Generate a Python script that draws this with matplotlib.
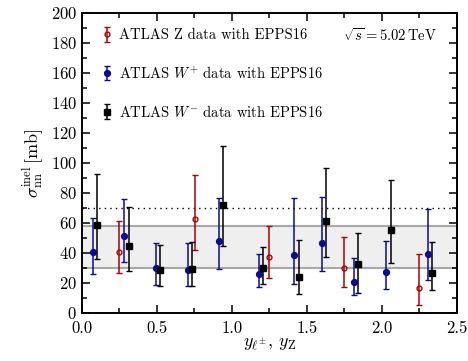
import numpy as np
import matplotlib
matplotlib.use("Agg")
from matplotlib import pyplot as plt
from matplotlib.ticker import MultipleLocator

plt.rcParams["font.family"] = "serif"
plt.rcParams["font.serif"] = ["cmr10"]
plt.rcParams["mathtext.fontset"] = "cm"
plt.rcParams["axes.formatter.use_mathtext"] = True

# ATLAS Z data
z_y = [0.249, 0.751, 1.249, 1.749, 2.249]
z_sig = [40.7, 62.2, 36.9, 29.6, 16.2]
z_hi = [60.9, 91.6, 57.6, 50.5, 38.9]
z_lo = [26.7, 41.8, 23.4, 17.1, 5.1]

# ATLAS W+ data
wp_y = [0.076, 0.284, 0.493, 0.707, 0.913, 1.180, 1.413, 1.598, 1.813, 2.031, 2.309]
wp_sig = [40.7, 51.1, 29.6, 28.7, 48.0, 25.6, 38.5, 46.5, 20.2, 27.4, 39.1]
wp_hi = [63.3, 76.0, 46.2, 46.2, 76.7, 38.9, 76.2, 76.9, 36.2, 48.0, 68.9]
wp_lo = [25.6, 33.8, 18.4, 17.6, 29.4, 17.1, 19.1, 27.8, 11.8, 15.6, 22.0]

# ATLAS W- data
wm_y = [0.104, 0.316, 0.524, 0.737, 0.944, 1.209, 1.447, 1.631, 1.844, 2.062, 2.338]
wm_sig = [58.2, 44.2, 28.2, 28.9, 71.6, 29.8, 24.0, 61.1, 32.2, 54.9, 26.5]
wm_hi = [92.4, 70.2, 44.9, 47.3, 111.3, 44.0, 48.5, 96.2, 52.9, 88.5, 47.1]
wm_lo = [35.6, 27.6, 17.6, 17.8, 44.5, 19.4, 12.2, 37.4, 12.9, 32.9, 15.1]

band_lo, band_hi = 30, 58
ref_line = 70

fig = plt.figure(figsize=(4.68, 3.61), dpi=100)
ax = fig.add_axes([0.175, 0.134, 0.801, 0.831])

ax.axhspan(band_lo, band_hi, facecolor="#efefef", edgecolor="none", zorder=0)
ax.axhline(band_lo, color="#a8a8a8", lw=1.5, zorder=1)
ax.axhline(band_hi, color="#a8a8a8", lw=1.5, zorder=1)
ax.axhline(ref_line, color="black", lw=1.0, ls=(0, (1, 3)), zorder=1)

def draw(x, y, hi, lo, color, marker, mfc, label, ms):
    y = np.array(y)
    err = [y - np.array(lo), np.array(hi) - y]
    ax.errorbar(x, y, yerr=err, fmt=marker, color=color, mfc=mfc, mec=color,
                ms=ms, mew=1.0, elinewidth=1.1, capsize=2.2, capthick=1.1,
                label=label, zorder=3)

draw(z_y, z_sig, z_hi, z_lo, "#b00000", "o", "none", r"ATLAS Z data with EPPS16", 3.5)
draw(wp_y, wp_sig, wp_hi, wp_lo, "#0a0a9a", "o", "#0a0a9a", r"ATLAS $W^{+}$ data with EPPS16", 4.2)
draw(wm_y, wm_sig, wm_hi, wm_lo, "black", "s", "black", r"ATLAS $W^{-}$ data with EPPS16", 4.0)

ax.set_xlim(0, 2.5)
ax.set_ylim(0, 200)
ax.xaxis.set_major_locator(MultipleLocator(0.5))
ax.xaxis.set_minor_locator(MultipleLocator(0.25))
ax.yaxis.set_major_locator(MultipleLocator(20))
ax.yaxis.set_minor_locator(MultipleLocator(10))
ax.xaxis.set_major_formatter(matplotlib.ticker.FormatStrFormatter("%.1f"))
ax.tick_params(which="both", direction="in", top=True, right=True, labelsize=12, width=1.1)
ax.tick_params(which="major", length=6)
ax.tick_params(which="minor", length=3.5)
ax.tick_params(axis="x", pad=6)
for s in ax.spines.values():
    s.set_linewidth(1.4)

ax.set_xlabel(r"$y_{\ell^{\pm}},\, y_{\rm Z}$", fontsize=13, labelpad=0)
ax.set_ylabel(r"$\sigma^{\rm inel}_{\rm nn}\,[\rm mb]$", fontsize=13, labelpad=4)

ax.text(0.947, 0.925, r"$\sqrt{s} = 5.02\,{\rm TeV}$", transform=ax.transAxes,
        ha="right", va="center", fontsize=10.5)

ax.legend(loc="upper left", frameon=False, fontsize=10.5, labelspacing=1.55,
          handlelength=0.6, handletextpad=0.5, borderaxespad=0.5, bbox_to_anchor=(0.02, 0.99))

fig.savefig("out.png", dpi=100)
